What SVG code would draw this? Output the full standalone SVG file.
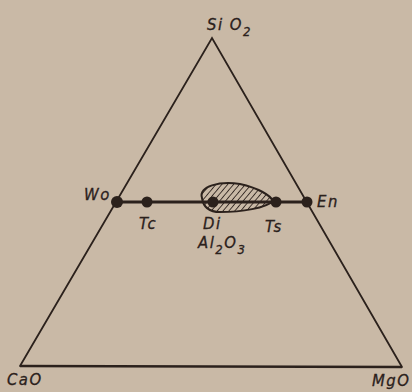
<svg xmlns="http://www.w3.org/2000/svg" width="412" height="392" viewBox="0 0 412 392">
<defs>
<style>
.edge{stroke:#2b211c;stroke-width:1.8;fill:none;stroke-linecap:round;stroke-linejoin:miter}
.base{stroke:#2b211c;stroke-width:2.4;fill:none}
.join{stroke:#2b211c;stroke-width:2.8;fill:none}
.dot{fill:#2b211c}
.lbl{font-family:"DejaVu Sans Condensed","DejaVu Sans","Liberation Sans",sans-serif;font-style:oblique;font-size:16.5px;fill:#2b211c;stroke:#2b211c;stroke-width:0.3;letter-spacing:1.5px}
.sub{font-size:13px}
</style>
<pattern id="hatch" patternUnits="userSpaceOnUse" width="4.5" height="4.5" patternTransform="rotate(40)">
<line x1="0" y1="0" x2="0" y2="4.5" stroke="#2b211c" stroke-width="1.7"/>
</pattern>
<clipPath id="blobclip"><path d="M202,198 C198,186 220,181 240,184 C258,188 270,195 273,201 C266,208 242,212 220,212 C207,212 203,205 202,198 Z"/></clipPath>
</defs>
<rect width="412" height="392" fill="#c9b9a6"/>
<g id="connectors">
<path class="edge" d="M20,366 L212,38 L402,367"/>
<line class="base" x1="20" y1="366" x2="402" y2="367"/>
<line class="join" x1="117" y1="202" x2="307" y2="202"/>
</g>
<g id="field">
<rect x="195" y="178" width="85" height="40" fill="url(#hatch)" clip-path="url(#blobclip)"/>
<path d="M202,198 C198,186 220,181 240,184 C258,188 270,195 273,201 C266,208 242,212 220,212 C207,212 203,205 202,198 Z" fill="none" stroke="#2b211c" stroke-width="2"/>
</g>
<g id="SiO2"><text class="lbl" x="207" y="30">Si O<tspan class="sub" dy="6">2</tspan></text></g>
<g id="CaO"><text class="lbl" x="7" y="385">CaO</text></g>
<g id="MgO"><text class="lbl" x="372" y="386">MgO</text></g>
<g id="Wo"><circle class="dot" cx="117" cy="202" r="6"/><text class="lbl" x="84" y="200">Wo</text></g>
<g id="Tc"><circle class="dot" cx="147" cy="202" r="5.5"/><text class="lbl" x="139" y="229">Tc</text></g>
<g id="Di"><circle class="dot" cx="213" cy="202" r="5.5"/><text class="lbl" x="203" y="229">Di</text></g>
<g id="Ts"><circle class="dot" cx="276" cy="202" r="5.5"/><text class="lbl" x="265" y="232">Ts</text></g>
<g id="En"><circle class="dot" cx="307" cy="202" r="5.5"/><text class="lbl" x="317" y="207">En</text></g>
<g id="Al2O3"><text class="lbl" x="198" y="248">Al<tspan class="sub" dy="6">2</tspan><tspan dy="-6">O</tspan><tspan class="sub" dy="6">3</tspan></text></g>
</svg>
